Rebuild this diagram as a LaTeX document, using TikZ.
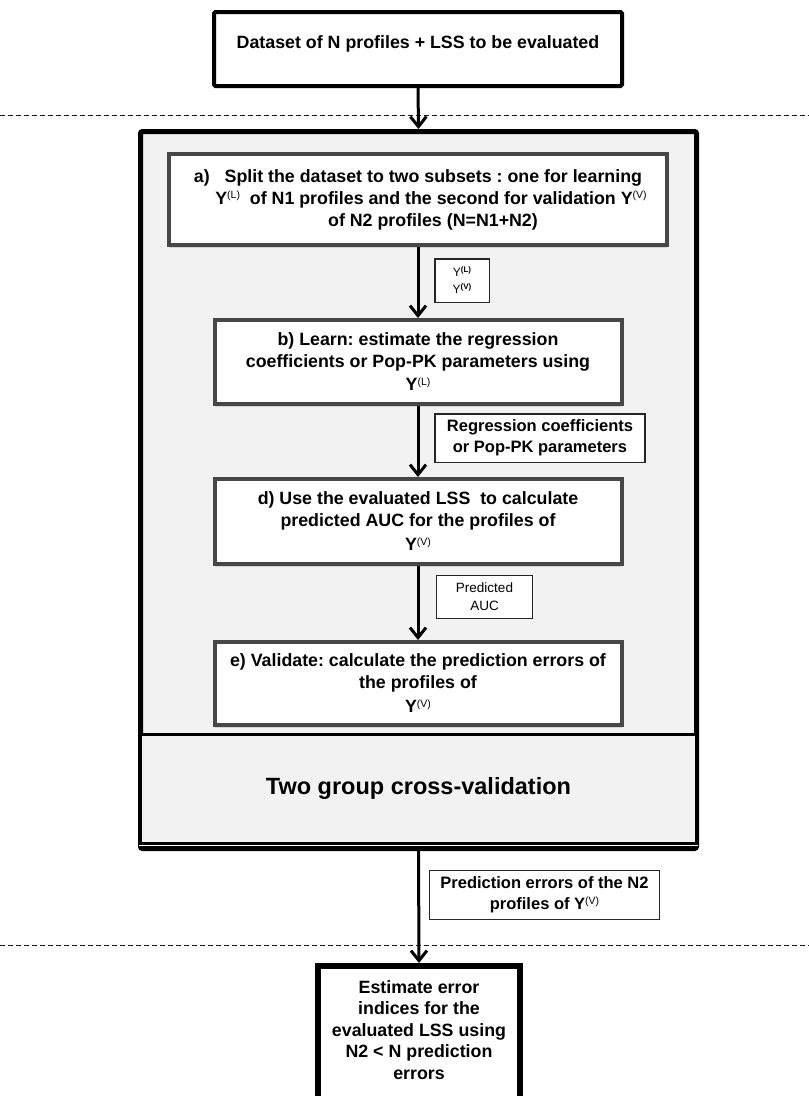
\documentclass[tikz,border=0pt]{standalone}
\usepackage{fontspec}
\setmainfont{Liberation Sans}
\usetikzlibrary{arrows.meta,shadows}
% superscript set small and in medium weight
\newcommand{\supx}[1]{\raisebox{5.5pt}{\fontsize{10.5}{10.5}\selectfont\mdseries #1}}
\newcommand{\supy}[1]{\raisebox{4pt}{\fontsize{8}{8}\selectfont\bfseries #1}}

\begin{document}
\frenchspacing
\begin{tikzpicture}[x=1pt,y=-1pt,
  heavybox/.style={draw=black, line width=4pt, fill=white, rounded corners=1.5pt,
    align=center, inner sep=0pt, font=\fontsize{17.8}{21.5}\selectfont\bfseries},
  stepbox/.style={draw=black!72, line width=4pt, fill=white, align=center, inner sep=0pt,
    font=\fontsize{17.8}{22}\selectfont\bfseries,
    drop shadow={shadow xshift=0pt, shadow yshift=-3pt, opacity=0.12, fill=black}},
  cvbox/.style={draw=black, line width=5pt, fill=black!5, rounded corners=2pt, inner sep=0pt},
  panelbox/.style={draw=black, line width=3pt, fill=black!5, inner sep=0pt,
    font=\fontsize{23.5}{26}\selectfont\bfseries},
  tagbox/.style={draw=black!85, line width=1.5pt, fill=white, align=center, inner sep=0pt},
  flow/.style={line width=3pt, -{Straight Barb[length=10pt,width=16pt]}},
  dashline/.style={black!90, line width=1pt, dash pattern=on 5pt off 3pt}
]
\useasboundingbox (0,0) rectangle (809,1096);

% separators between the stages
\coordinate (d1l) at (0,115);   \coordinate (d1r) at (809,115);
\coordinate (d2l) at (0,945);   \coordinate (d2r) at (809,945);
\draw[dashline] (d1l) -- (d1r);
\draw[dashline] (d2l) -- (d2r);

% input
\node[heavybox, minimum width=408pt, minimum height=74pt, text height=13pt, text depth=14pt]
  (src) at (418,49) {Dataset of N profiles + LSS to be evaluated};

% cross-validation frame
\node[cvbox, minimum width=556pt, minimum height=717pt] (cv) at (418.5,490) {};
\node[panelbox, minimum width=556pt, minimum height=109pt] (panel) at (418.5,788.5)
  {Two group cross-validation};
\draw[white, line width=1pt] ([yshift=-0.5pt]panel.south west) -- ([yshift=-0.5pt]panel.south east);

% steps
\node[stepbox, minimum width=498pt, minimum height=91pt] (sa) at (418,199.5)
  {a)\ \ \ Split the dataset to two subsets : one for learning\\
   \hspace*{26pt}Y\supx{(L)}\ \ of N1 profiles and the second for validation Y\supx{(V)}\\
   \hspace*{30pt}of N2 profiles (N=N1+N2)};
\node[stepbox, minimum width=407pt, minimum height=84pt] (sb) at (418,362)
  {b) Learn: estimate the regression\\
   coefficients or Pop-PK parameters using\\[1pt]
   Y\supx{(L)}};
\node[stepbox, minimum width=407pt, minimum height=85pt] (sd) at (418,521.5)
  {d) Use the evaluated LSS\ \ to calculate\\
   predicted AUC for the profiles of\\[2pt]
   Y\supx{(V)}};
\node[stepbox, minimum width=407pt, minimum height=83pt] (se) at (418,683.5)
  {e) Validate: calculate the prediction errors of\\
   the profiles of\\[2pt]
   Y\supx{(V)}};

% output, running on past the lower edge
\node[heavybox, line width=6pt, rounded corners=0pt, minimum width=202pt, minimum height=150pt,
  text depth=22pt]
  (est) at (419,1041)
  {Estimate error\\ indices for the\\ evaluated LSS using\\ N2 < N prediction\\ errors};

% what passes along each arrow
\node[tagbox, minimum width=54.5pt, minimum height=43.5pt,
  font=\fontsize{12}{17}\selectfont] (t1) at (462,280.5)
  {Y\supy{(L)}\\ Y\supy{(V)}};
\node[tagbox, minimum width=210pt, minimum height=48.5pt,
  font=\fontsize{16.5}{21}\selectfont\bfseries] (t2) at (540,438)
  {Regression coefficients\\ or Pop-PK parameters};
\node[tagbox, minimum width=96pt, minimum height=43pt,
  font=\fontsize{13.5}{18}\selectfont] (t3) at (484.5,597)
  {Predicted\\ AUC};
\node[tagbox, minimum width=230pt, minimum height=49pt,
  font=\fontsize{16.5}{21}\selectfont\bfseries] (t4) at (544.5,895)
  {Prediction errors of the N2\\ profiles of Y\supx{(V)}};

% flow
\draw[flow] (src.south) -- (cv.north);
\draw[flow] (sa.south) -- (sb.north);
\draw[flow] (sb.south) -- (sd.north);
\draw[flow] (sd.south) -- (se.north);
\draw[flow] (cv.south) -- (est.north);
\end{tikzpicture}
\end{document}
